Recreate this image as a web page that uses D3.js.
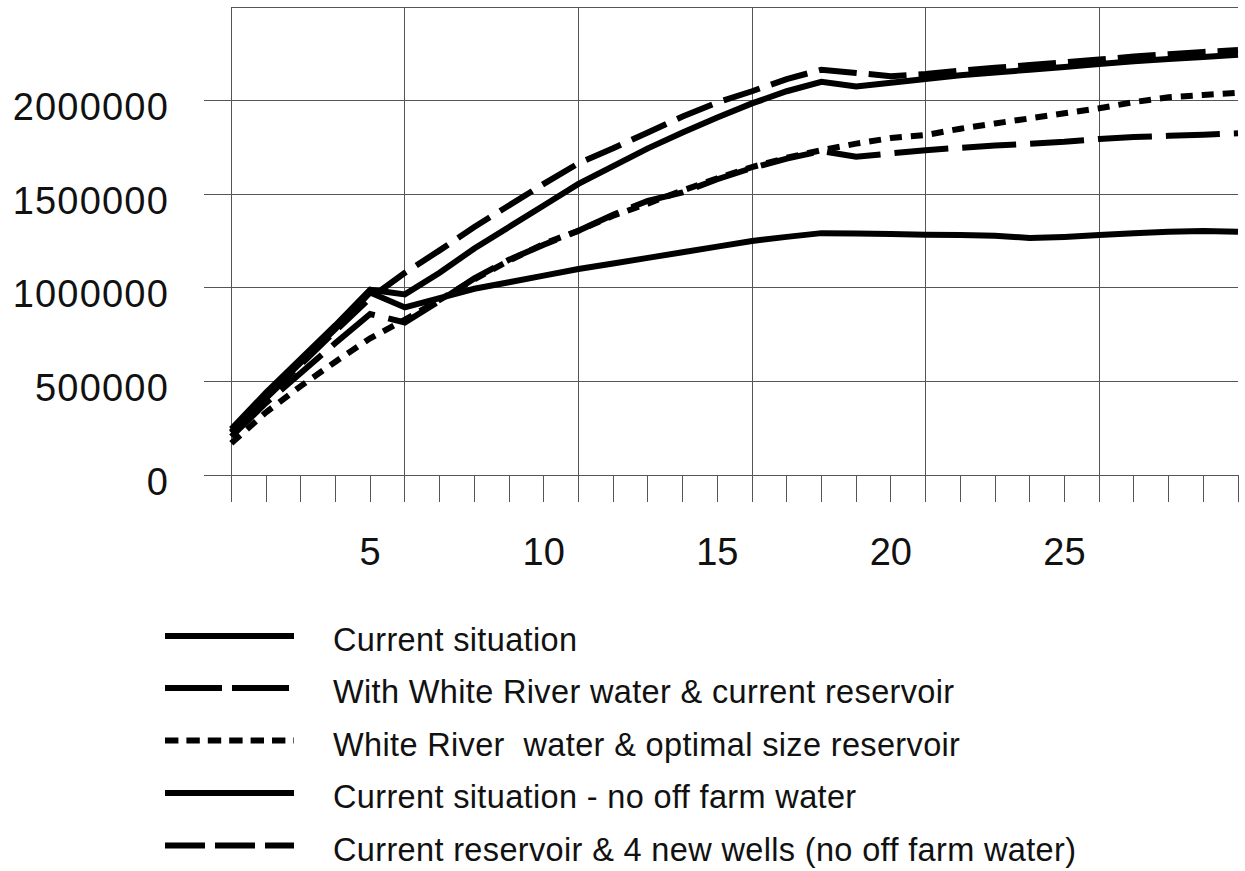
<!DOCTYPE html>
<html>
<head>
<meta charset="utf-8">
<script src="https://cdnjs.cloudflare.com/ajax/libs/d3/7.8.5/d3.min.js"></script>
<style>
  body { margin: 0; background: #fff; }
  text { font-family: "Liberation Sans", Arial, sans-serif; fill: #111; }
</style>
</head>
<body>
<div id="chart"></div>
<script>
// data
var years = [1, 2, 3, 4, 5, 6, 7, 8, 9, 10, 11, 12, 13, 14, 15,
             16, 17, 18, 19, 20, 21, 22, 23, 24, 25, 26, 27, 28, 29, 30];

var currentSituation = [230000, 420000, 600000, 780000, 975000, 895000, 945000, 995000, 1030000, 1065000,
  1100000, 1130000, 1160000, 1190000, 1220000, 1250000, 1272000, 1292000, 1290000, 1287000,
  1284000, 1282000, 1278000, 1266000, 1272000, 1282000, 1292000, 1300000, 1303000, 1300000];

var whiteRiverCurrent = [205000, 385000, 545000, 705000, 860000, 815000, 930000, 1050000, 1150000, 1230000,
  1305000, 1390000, 1465000, 1510000, 1580000, 1640000, 1690000, 1730000, 1700000, 1718000,
  1735000, 1748000, 1760000, 1770000, 1780000, 1795000, 1805000, 1812000, 1818000, 1825000];

var whiteRiverOptimal = [170000, 335000, 475000, 605000, 730000, 830000, 935000, 1045000, 1145000, 1235000,
  1305000, 1385000, 1450000, 1520000, 1585000, 1645000, 1695000, 1735000, 1770000, 1800000,
  1816000, 1850000, 1878000, 1905000, 1932000, 1959000, 1992000, 2018000, 2030000, 2042000];

var noOffFarm = [245000, 440000, 620000, 800000, 990000, 965000, 1080000, 1210000, 1325000, 1440000,
  1555000, 1650000, 1745000, 1830000, 1910000, 1985000, 2050000, 2100000, 2075000, 2095000,
  2115000, 2135000, 2150000, 2165000, 2180000, 2195000, 2210000, 2222000, 2233000, 2245000];

var newWells = [225000, 410000, 590000, 770000, 945000, 1080000, 1200000, 1325000, 1440000, 1555000,
  1665000, 1745000, 1830000, 1915000, 1990000, 2050000, 2115000, 2165000, 2148000, 2130000,
  2142000, 2160000, 2175000, 2190000, 2205000, 2220000, 2235000, 2248000, 2260000, 2270000];

var yTicks = [0, 500000, 1000000, 1500000, 2000000];
var xLabels = [5, 10, 15, 20, 25];
var xGrid = [6, 11, 16, 21, 26];

var legendNames = [
  "Current situation",
  "With White River water & current reservoir",
  "White River  water & optimal size reservoir",
  "Current situation - no off farm water",
  "Current reservoir & 4 new wells (no off farm water)"
];

// series: values, dash in the plot, dash in the legend
var series = [
  {values: currentSituation,  dash: null,    legendDash: null},
  {values: whiteRiverCurrent, dash: "54 14", legendDash: "57 10"},
  {values: whiteRiverOptimal, dash: "12 9",  legendDash: "13.4 8"},
  {values: noOffFarm,         dash: null,    legendDash: null},
  {values: newWells,          dash: "38 12", legendDash: "40 10"}
];

var W = 1245, H = 871;

var svg = d3.select("#chart")
  .append("svg")
    .attr("width", W)
    .attr("height", H)
    .style("display", "block");

svg.append("rect").attr("width", W).attr("height", H).attr("fill", "#fff");

var x = d3.scaleLinear().domain([1, 30]).range([231.3, 1238]);
var y = d3.scaleLinear().domain([0, 2500000]).range([475, 7]);

var grid = svg.append("g")
  .attr("stroke", "#555")
  .attr("stroke-width", 1)
  .attr("shape-rendering", "crispEdges");

// horizontal gridlines, poking out left as ticks
grid.selectAll("line.h")
  .data(yTicks)
  .enter()
  .append("line")
    .attr("x1", x(1) - 27)
    .attr("x2", x(30))
    .attr("y1", function(d) { return y(d); })
    .attr("y2", function(d) { return y(d); });

// top border at 2.5M
grid.append("line")
  .attr("x1", x(1)).attr("x2", x(30))
  .attr("y1", y(2500000)).attr("y2", y(2500000));

// vertical gridlines
grid.selectAll("line.v")
  .data(xGrid)
  .enter()
  .append("line")
    .attr("x1", function(d) { return x(d); })
    .attr("x2", function(d) { return x(d); })
    .attr("y1", y(2500000))
    .attr("y2", y(0));

// left axis
grid.append("line")
  .attr("x1", x(1)).attr("x2", x(1))
  .attr("y1", y(2500000)).attr("y2", y(0) + 27);

// x ticks every year
grid.selectAll("line.t")
  .data(years)
  .enter()
  .append("line")
    .attr("x1", function(d) { return x(d); })
    .attr("x2", function(d) { return x(d); })
    .attr("y1", y(0))
    .attr("y2", y(0) + 27);

// y labels
svg.selectAll("text.yl")
  .data(yTicks)
  .enter()
  .append("text")
    .attr("x", 169)
    .attr("y", function(d) { return y(d) + 19.5; })
    .attr("text-anchor", "end")
    .style("font-size", "38px")
    .style("letter-spacing", "1.2px")
    .text(function(d) { return d; });

// x labels
svg.selectAll("text.xl")
  .data(xLabels)
  .enter()
  .append("text")
    .attr("x", function(d) { return x(d); })
    .attr("y", 565)
    .attr("text-anchor", "middle")
    .style("font-size", "38px")
    .text(function(d) { return d; });

var line = d3.line()
  .x(function(d, i) { return x(years[i]); })
  .y(function(d) { return y(d); });

// the lines
svg.selectAll("path.series")
  .data(series)
  .enter()
  .append("path")
    .attr("d", function(d) { return line(d.values); })
    .attr("fill", "none")
    .attr("stroke", "#000")
    .attr("stroke-width", 6)
    .attr("stroke-dasharray", function(d) { return d.dash; });

// legend
var rowY = [636, 688, 740.5, 793, 845.5];
var legend = svg.selectAll("g.legend")
  .data(series)
  .enter()
  .append("g")
    .attr("transform", function(d, i) { return "translate(0," + rowY[i] + ")"; });

legend.append("line")
  .attr("x1", 165).attr("x2", 294)
  .attr("y1", 0).attr("y2", 0)
  .attr("stroke", "#000")
  .attr("stroke-width", 6)
  .attr("stroke-dasharray", function(d) { return d.legendDash; });

legend.append("text")
  .attr("x", 333)
  .attr("y", 15)
  .style("font-size", "32.5px")
  .style("letter-spacing", "0.35px")
  .style("white-space", "pre")
  .text(function(d, i) { return legendNames[i]; });
</script>
</body>
</html>
